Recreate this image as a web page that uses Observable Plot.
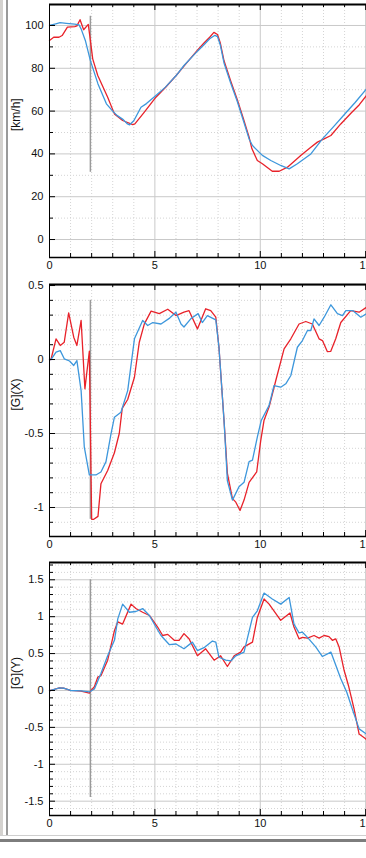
<!DOCTYPE html>
<html><head><meta charset="utf-8">
<script src="https://cdn.jsdelivr.net/npm/d3@7"></script>
<script src="https://cdn.jsdelivr.net/npm/@observablehq/plot@0.6"></script>
<style>
html,body{margin:0;padding:0;background:#fff;width:366px;height:858px;overflow:hidden}
body{position:relative;font-family:"Liberation Sans",Arial,sans-serif}
.panel{position:absolute;left:0;width:366px}
.panel svg{display:block;overflow:visible}
.chrome{position:absolute}
</style></head><body>
<div id="p1" class="panel" style="top:0"></div>
<div id="p2" class="panel" style="top:280px"></div>
<div id="p3" class="panel" style="top:560px"></div>
<div class="chrome" style="left:0;top:0;width:3px;height:836px;background:#d4d2cf"></div>
<div class="chrome" style="left:6px;top:0;width:2px;height:836px;background:#9a9a9a"></div>
<div class="chrome" style="left:0;top:835px;width:366px;height:1px;background:#cfcfcf"></div>
<div class="chrome" style="left:0;top:839px;width:366px;height:3px;background:#7d7d7d"></div>
<script>
// ---- shared x axis ----
const xDomain = [0, 15.04];
const xMajor = [0, 5, 10, 15];
const xMinor = [1, 2, 3, 4, 6, 7, 8, 9, 11, 12, 13, 14];

// ---- panel 1: speed [km/h] ----
const speedLabel = "[km/h]";
const speedDomain = [-8.4, 109.8];
const speedMajor = [0, 20, 40, 60, 80, 100];
const speedMinor = [10, 30, 50, 70, 90];
const speedMarker = [{t: 1.94, y1: 31.4, y2: 104.3}];
const speedRed = [[0,93],[0.2,94.5],[0.45,94.5],[0.6,95.3],[0.85,99.2],[1.2,99.5],[1.3,99.8],[1.45,102.7],[1.62,98],[1.84,100.5],[1.94,93],[2.05,84.4],[2.29,76.6],[2.76,66.5],[3.08,58.7],[3.47,55.6],[3.95,53.7],[4.05,54],[4.5,59.5],[5.05,66.5],[5.5,71],[6.0,76.5],[6.38,81],[7.02,88.5],[7.33,91.8],[7.6,94.5],[7.8,96.8],[7.97,95.8],[8.1,92],[8.28,83.5],[8.6,74],[8.91,65.3],[9.2,56.5],[9.47,47.8],[9.6,42.5],[9.86,36.9],[10.1,35.4],[10.57,31.9],[10.9,31.9],[11.29,33.8],[11.92,39.3],[12.4,43.1],[12.71,45.5],[13.03,47],[13.35,48.6],[13.82,54],[14.3,59],[14.7,63],[15.04,67.3]];
const speedBlue = [[0,100],[0.3,100.8],[0.5,101.3],[0.8,101],[1.2,100.6],[1.4,100.3],[1.5,98.4],[1.7,93],[1.94,83.6],[2.3,72.7],[2.7,63.4],[3.0,60],[3.2,58],[3.5,56],[3.7,54],[3.8,53.6],[4.0,55.5],[4.34,61.8],[4.6,63.5],[5.05,67.3],[5.5,71.2],[6.0,76.5],[6.38,81.3],[7.02,88],[7.33,91],[7.6,93.8],[7.85,95.4],[7.97,94.8],[8.1,91],[8.28,82.5],[8.6,73],[8.91,64.5],[9.2,55.5],[9.47,47],[9.63,43.9],[10.1,39.3],[10.5,36.9],[10.97,34.6],[11.37,33],[11.76,35.4],[12.4,40],[12.95,47],[13.5,53],[14.0,58.5],[14.5,64],[15.04,70.4]];

// ---- panel 2: [G](X) ----
const gxLabel = "[G](X)";
const gxDomain = [-1.196, 0.507];
const gxMajor = [-1, -0.5, 0, 0.5];
const gxMinor = [-1.1, -0.9, -0.8, -0.7, -0.6, -0.4, -0.3, -0.2, -0.1, 0.1, 0.2, 0.3, 0.4];
const gxMarker = [{t: 1.94, y1: -1.08, y2: 0.40}];
const gxRed = [[0,0],[0.07,0],[0.31,0.14],[0.51,0.095],[0.7,0.117],[0.91,0.315],[1.15,0.151],[1.3,0.095],[1.5,0.264],[1.68,-0.198],[1.89,0.056],[2.0,-1.08],[2.1,-1.08],[2.3,-1.06],[2.44,-0.84],[2.76,-0.75],[3.08,-0.63],[3.31,-0.5],[3.45,-0.33],[3.71,-0.27],[4.03,-0.12],[4.26,0.117],[4.5,0.241],[4.82,0.327],[5.21,0.31],[5.61,0.34],[6.0,0.297],[6.38,0.32],[6.62,0.33],[7.02,0.207],[7.41,0.343],[7.65,0.33],[7.89,0.286],[8.04,0.083],[8.28,-0.41],[8.44,-0.77],[8.68,-0.94],[8.84,-0.964],[9.04,-1.02],[9.23,-0.95],[9.47,-0.83],[9.83,-0.76],[10.02,-0.55],[10.18,-0.41],[10.42,-0.32],[10.74,-0.14],[11.13,0.072],[11.45,0.14],[11.84,0.24],[12.16,0.257],[12.47,0.24],[12.79,0.14],[12.95,0.128],[13.18,0.054],[13.34,0.055],[13.58,0.14],[13.82,0.25],[14.29,0.33],[14.69,0.32],[15.04,0.353]];
const gxBlue = [[0,0],[0.07,0],[0.31,0.05],[0.51,0.06],[0.7,0.005],[0.95,-0.01],[1.15,-0.04],[1.3,-0.007],[1.5,-0.21],[1.65,-0.59],[1.89,-0.78],[2.2,-0.78],[2.44,-0.76],[2.68,-0.69],[2.92,-0.5],[3.08,-0.39],[3.39,-0.356],[3.71,-0.21],[4.03,0.14],[4.42,0.264],[4.66,0.23],[4.9,0.25],[5.29,0.24],[5.7,0.28],[6.0,0.32],[6.24,0.24],[6.38,0.22],[6.7,0.275],[7.05,0.31],[7.25,0.25],[7.49,0.297],[7.89,0.268],[8.04,0.083],[8.28,-0.41],[8.44,-0.82],[8.68,-0.95],[8.99,-0.86],[9.23,-0.83],[9.47,-0.69],[9.63,-0.68],[9.86,-0.525],[10.05,-0.41],[10.42,-0.31],[10.65,-0.176],[10.97,-0.187],[11.21,-0.164],[11.45,-0.108],[11.76,0.083],[12.0,0.128],[12.24,0.196],[12.4,0.196],[12.55,0.275],[12.79,0.23],[13.03,0.286],[13.35,0.37],[13.66,0.31],[13.9,0.297],[14.06,0.33],[14.4,0.33],[14.77,0.286],[15.04,0.31]];

// ---- panel 3: [G](Y) ----
const gyLabel = "[G](Y)";
const gyDomain = [-1.694, 1.734];
const gyMajor = [-1.5, -1, -0.5, 0, 0.5, 1, 1.5];
const gyMinor = [-1.6, -1.4, -1.3, -1.2, -1.1, -0.9, -0.8, -0.7, -0.6, -0.4, -0.3, -0.2, -0.1, 0.1, 0.2, 0.3, 0.4, 0.6, 0.7, 0.8, 0.9, 1.1, 1.2, 1.3, 1.4, 1.6, 1.7];
const gyMarker = [{t: 1.94, y1: -1.45, y2: 1.5}];
const gyRed = [[0,0],[0.07,0],[0.47,0.036],[0.7,0.03],[1.0,0],[1.5,-0.01],[1.89,-0.036],[1.97,0],[2.13,0.05],[2.29,0.18],[2.44,0.2],[2.76,0.41],[3.08,0.81],[3.24,0.93],[3.47,0.9],[3.87,1.17],[4.1,1.11],[4.42,1.06],[4.74,1.016],[5.13,0.86],[5.37,0.745],[5.61,0.76],[5.92,0.68],[6.15,0.68],[6.38,0.77],[6.62,0.70],[7.02,0.47],[7.41,0.565],[7.81,0.41],[8.12,0.47],[8.44,0.325],[8.76,0.47],[9.07,0.52],[9.23,0.59],[9.63,0.655],[9.86,0.99],[10.18,1.24],[10.42,1.17],[10.97,0.95],[11.41,1.05],[11.6,0.86],[11.84,0.70],[12.0,0.72],[12.24,0.71],[12.55,0.745],[12.79,0.71],[13.03,0.745],[13.26,0.73],[13.42,0.68],[13.58,0.70],[13.74,0.59],[13.98,0.27],[14.2,0.05],[14.45,-0.25],[14.69,-0.59],[15.0,-0.655],[15.04,-0.67]];
const gyBlue = [[0,0],[0.07,0],[0.47,0.036],[0.7,0.03],[1.0,0],[1.5,-0.005],[1.89,-0.02],[2.13,0.02],[2.44,0.23],[2.76,0.47],[3.08,0.68],[3.24,0.97],[3.47,1.17],[3.79,1.06],[4.1,1.07],[4.42,1.11],[4.74,1.016],[5.05,0.86],[5.29,0.745],[5.69,0.62],[6.0,0.63],[6.38,0.565],[6.78,0.655],[7.02,0.54],[7.33,0.58],[7.73,0.67],[7.89,0.655],[8.04,0.45],[8.36,0.41],[8.6,0.40],[8.84,0.47],[9.23,0.52],[9.63,0.99],[9.86,1.08],[10.18,1.32],[10.57,1.24],[10.97,1.17],[11.37,1.26],[11.6,0.90],[11.84,0.78],[12.0,0.79],[12.24,0.72],[12.63,0.59],[12.95,0.46],[13.35,0.52],[13.82,0.16],[14.1,-0.02],[14.4,-0.28],[14.69,-0.52],[15.04,-0.59]];

const RED = "#e8222a", BLUE = "#3d97dc";
const W = 366, ML = 49, MR = 0;

function panel({label, yDomain, yMajor, yMinor, red, blue, marker, height, marginTop, marginBottom}) {
  const plotH = height - marginTop - marginBottom;
  const plotW = W - ML - MR;
  const fmt = d => String(d);
  return Plot.plot({
    width: W, height, marginLeft: ML, marginRight: MR, marginTop, marginBottom,
    style: {fontFamily: '"Liberation Sans", Arial, sans-serif', fontSize: "11px", color: "#000", background: "transparent", overflow: "visible"},
    x: {domain: xDomain, axis: null, label: null},
    y: {domain: yDomain, axis: null, label: null},
    marks: [
      // minor grid (dotted)
      Plot.ruleY(yMinor, {stroke: "#d4d4d4", strokeDasharray: "1,2"}),
      Plot.ruleX(xMinor, {stroke: "#d4d4d4", strokeDasharray: "1,2"}),
      // major grid
      Plot.ruleY(yMajor, {stroke: "#c9c9c9"}),
      Plot.ruleX(xMajor.filter(d => d > 0), {stroke: "#c9c9c9"}),
      // cursor marker
      Plot.ruleX(marker, {x: "t", y1: "y1", y2: "y2", stroke: "#9a9a9a", strokeWidth: 1.5}),
      // series
      Plot.line(red, {x: d => d[0], y: d => d[1], stroke: RED, strokeWidth: 1.3}),
      Plot.line(blue, {x: d => d[0], y: d => d[1], stroke: BLUE, strokeWidth: 1.3}),
      // inward ticks: bottom, top, left
      Plot.ruleX(xMajor, {insetTop: plotH - 6, stroke: "#000"}),
      Plot.ruleX(xMinor, {insetTop: plotH - 4, stroke: "#000"}),
      Plot.ruleX(xMajor, {insetBottom: plotH - 6, stroke: "#000"}),
      Plot.ruleX(xMinor, {insetBottom: plotH - 3, stroke: "#000"}),
      Plot.ruleY(yMajor, {insetRight: plotW - 6, stroke: "#000"}),
      Plot.ruleY(yMinor, {insetRight: plotW - 4, stroke: "#000"}),
      // axis lines
      Plot.ruleX([xDomain[0]], {stroke: "#000"}),
      Plot.ruleY([yDomain[0]], {stroke: "#000", strokeWidth: 1.6}),
      Plot.ruleY([yDomain[1]], {stroke: "#000", strokeWidth: 2}),
      // tick labels
      Plot.axisX(xMajor, {tickSize: 0, tickPadding: 4, fontSize: 11, tickFormat: fmt, fill: "#111", label: null}),
      Plot.axisY(yMajor, {tickSize: 0, tickPadding: 6, fontSize: 11, tickFormat: fmt, fill: "#111", label: null}),
      // axis title
      Plot.text([label], {frameAnchor: "left", dx: -33, rotate: -90, fontSize: 12, fill: "#111", text: d => d})
    ]
  });
}

document.getElementById("p1").append(panel({label: speedLabel, yDomain: speedDomain, yMajor: speedMajor, yMinor: speedMinor, red: speedRed, blue: speedBlue, marker: speedMarker, height: 280, marginTop: 4, marginBottom: 23}));
document.getElementById("p2").append(panel({label: gxLabel, yDomain: gxDomain, yMajor: gxMajor, yMinor: gxMinor, red: gxRed, blue: gxBlue, marker: gxMarker, height: 280, marginTop: 4, marginBottom: 24}));
document.getElementById("p3").append(panel({label: gyLabel, yDomain: gyDomain, yMajor: gyMajor, yMinor: gyMinor, red: gyRed, blue: gyBlue, marker: gyMarker, height: 298, marginTop: 2, marginBottom: 43}));
</script>
</body></html>
